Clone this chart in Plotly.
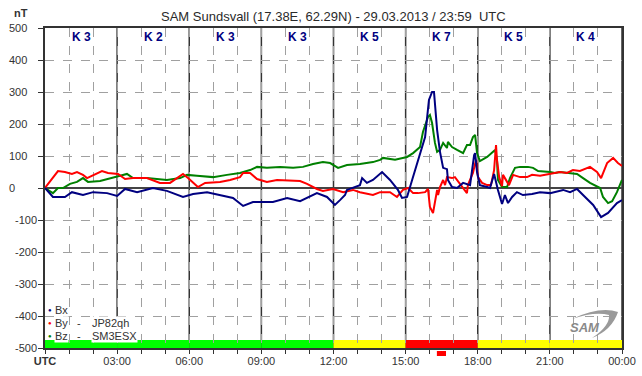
import plotly.graph_objects as go

# ---------------- data (hours UTC, nT) ----------------
bx_t = [0, 0.33, 0.83, 1.12, 1.58, 2.0, 2.58, 3.0, 3.33, 3.83, 4.49, 5.07, 5.74, 6.16, 6.74, 7.15,
        7.82, 8.24, 8.65, 9.48, 10.07, 10.61, 11.31, 11.73, 12.06, 12.27, 12.48, 12.56, 13.10, 13.19,
        13.39, 13.64, 14.02, 14.35, 14.68, 14.85, 15.06, 15.27, 15.52, 15.81, 15.97, 16.10, 16.18,
        16.31, 16.43, 16.56, 16.72, 16.76, 16.93, 17.14, 17.39, 17.68, 17.85, 17.89, 17.97, 18.09,
        18.39, 18.51, 18.68, 18.76, 18.84, 19.01, 19.13, 19.26, 19.43, 19.63, 19.88, 20.26, 20.59,
        21.01, 21.55, 21.84, 22.13, 22.38, 22.80, 23.13, 23.42, 23.79, 24.0]
bx_v = [0, -28, -28, -13, -22, -13, -16, -25, -3, -13, 0, -9, -28, -19, -13, -19,
        -31, -56, -44, -44, -31, -41, -16, -28, -53, -38, -22, -6, 9, 31,
        16, 25, 50, 25, -6, -31, -28, 25, 88, 159, 275, 300, 300,
        181, 113, 63, 59, 25, 3, 0, 16, 9, 103, 109, 50, 9,
        3, 0, 44, 16, -6, -50, -22, -47, -28, -13, -22, -19, -13,
        -16, -6, -13, -3, -22, -53, -91, -78, -47, -38]

by_t = [0, 0.33, 0.54, 0.83, 1.12, 1.33, 1.58, 1.75, 1.96, 2.37, 2.62, 3.04, 3.33, 3.66, 4.24, 4.78,
        5.2, 5.49, 5.74, 5.95, 6.16, 6.36, 6.66, 7.28, 7.70, 8.11, 8.24, 8.53, 8.82, 9.23, 9.65,
        10.61, 10.90, 11.31, 11.56, 11.98, 12.40, 12.81, 13.10, 13.64, 13.94, 14.35, 14.64, 14.89,
        15.10, 15.31, 15.52, 15.81, 15.93, 16.01, 16.14, 16.22, 16.31, 16.35, 16.43, 16.56, 16.64,
        16.72, 16.93, 17.05, 17.14, 17.39, 17.55, 17.59, 17.80, 17.93, 18.01, 18.18, 18.39, 18.55,
        18.68, 18.76, 18.80, 18.89, 19.01, 19.05, 19.18, 19.30, 19.47, 19.76, 20.05, 20.26, 20.59,
        21.01, 21.42, 21.71, 21.96, 22.25, 22.67, 22.96, 23.13, 23.38, 23.63, 23.83, 24.0]
by_v = [0, 31, 53, 50, 44, 50, 41, 31, 38, 53, 47, 44, 28, 31, 31, 16,
        16, 31, 44, 31, 16, 3, 16, 19, 25, 34, 47, 47, 28, 19, 25,
        22, 13, -3, -9, -3, -13, -6, -13, -22, -13, -13, -28, -6,
        0, -16, -16, -13, -3, -59, -78, -47, -6, -22, 3, 25, 9,
        34, 31, 34, 25, 0, -16, 9, 47, 88, 34, 16, 9, 9,
        56, 134, 88, 34, 6, 41, 25, 9, 41, 34, 34, 41, 38,
        44, 50, 47, 56, 53, 66, 50, 31, 78, 94, 78, 69]

bz_t = [0, 0.33, 0.54, 0.75, 1.04, 1.33, 1.58, 1.79, 2.29, 2.70, 3.12, 3.41, 3.66, 4.24, 5.07, 5.62,
        5.91, 6.32, 6.99, 7.57, 8.11, 8.53, 8.82, 9.23, 9.78, 10.32, 10.73, 11.15, 11.56, 11.86,
        12.19, 12.56, 13.10, 13.64, 13.94, 14.06, 14.56, 15.06, 15.31, 15.60, 15.72, 15.93, 16.01,
        16.10, 16.14, 16.22, 16.31, 16.43, 16.56, 16.72, 16.76, 16.93, 17.14, 17.39, 17.55, 17.68,
        17.80, 17.89, 17.97, 18.09, 18.39, 18.59, 18.72, 18.80, 18.84, 19.01, 19.22, 19.34, 19.55,
        19.76, 20.09, 20.30, 20.51, 21.01, 21.21, 21.42, 21.84, 22.13, 22.38, 22.67, 23.09, 23.21,
        23.42, 23.59, 23.79, 24.0]
bz_v = [0, -16, 0, 0, 13, 19, 31, 19, 22, 31, 38, 44, 31, 31, 25, 31,
        41, 38, 34, 41, 47, 56, 66, 63, 66, 63, 66, 75, 81, 78,
        63, 72, 75, 81, 88, 94, 88, 97, 109, 128, 175, 222, 228,
        203, 181, 141, 113, 119, 141, 125, 144, 128, 119, 109, 134, 134,
        159, 166, 109, 84, 97, 109, 119, 88, 25, 3, 3, 31, 63,
        66, 66, 63, 53, 50, 47, 50, 47, 44, 31, 16, 0, -28,
        -47, -41, -13, 25]

k_blocks = [0, 3, 6, 9, 12, 15, 18, 21]
k_values = [3, 2, 3, 3, 5, 7, 5, 4]
k_bar_colors = ["#00ff00", "#00ff00", "#00ff00", "#00ff00", "#ffff00", "#ff0000", "#ffff00", "#ffff00"]

x_ticks = [0, 3, 6, 9, 12, 15, 18, 21, 24]
x_labels = ["<b>UTC</b>", "03:00", "06:00", "09:00", "12:00", "15:00", "18:00", "21:00", "00:00"]
y_ticks = list(range(-500, 501, 100))

title = "SAM Sundsvall (17.38E, 62.29N) - 29.03.2013 / 23:59  UTC"
legend_names = ["Bx", "By", "Bz"]
legend_sources = ["", "JP82qh", "SM3ESX"]
legend_colors = ["#000080", "#ff0000", "#008000"]

# ---------------- figure ----------------
W, H = 642, 376
ML, MR, MT, MB = 45, 20, 28, 28
PW, PH = W - ML - MR, H - MT - MB


def px(xp):
    return (xp - ML) / PW


def py(yp):
    return (H - MB - yp) / PH


FONT = "Liberation Sans, Arial, sans-serif"
TXT = "#333333"

fig = go.Figure()
fig.add_trace(go.Scatter(x=bz_t, y=bz_v, mode="lines", line=dict(color=legend_colors[2], width=2), name="Bz"))
fig.add_trace(go.Scatter(x=by_t, y=by_v, mode="lines", line=dict(color=legend_colors[1], width=2), name="By"))
fig.add_trace(go.Scatter(x=bx_t, y=bx_v, mode="lines", line=dict(color=legend_colors[0], width=2), name="Bx"))

shapes = []
# K-index bar at bottom
for t0, c in zip(k_blocks, k_bar_colors):
    shapes.append(dict(type="rect", xref="x", yref="y", x0=t0, x1=t0 + 3, y0=-500, y1=-475,
                       fillcolor=c, line=dict(width=0), layer="below"))
# solid 3-hour lines
for t in x_ticks[1:]:
    shapes.append(dict(type="line", xref="x", yref="paper", x0=t, x1=t, y0=0, y1=1,
                       line=dict(color="#333333", width=1.5), layer="below"))
# small red marker under axis (time of max)
shapes.append(dict(type="rect", xref="x", yref="paper", x0=16.3, x1=16.68, y0=py(351), y1=py(356),
                   fillcolor="#ff0000", line=dict(width=0)))
# SAM logo swoosh
shapes.append(dict(type="path", xref="paper", yref="paper",
                   path=f"M {px(572)},{py(319)} Q {px(600)},{py(306)} {px(618)},{py(312)} "
                        f"Q {px(612)},{py(330)} {px(592)},{py(338)} "
                        f"Q {px(610)},{py(326)} {px(609)},{py(315)} "
                        f"Q {px(595)},{py(311)} {px(572)},{py(319)} Z",
                   fillcolor="#9a9a9a", line=dict(width=0)))

ann = []
ann.append(dict(text=title, xref="paper", yref="paper", x=px(333), y=py(17), showarrow=False,
                font=dict(size=13, color="#2a2a2a", family=FONT), xanchor="center", yanchor="middle"))
ann.append(dict(text="<b>nT</b>", xref="paper", yref="paper", x=px(21), y=py(13), showarrow=False,
                font=dict(size=11, color=TXT, family=FONT), xanchor="center", yanchor="middle"))
# y tick labels (left aligned as in the original)
for v in y_ticks:
    ann.append(dict(text=str(v), xref="paper", yref="y", x=px(7 if v >= 0 else 13), y=v, showarrow=False,
                    font=dict(size=11, color=TXT, family=FONT), xanchor="left", yanchor="middle"))
for t0, k in zip(k_blocks, k_values):
    ann.append(dict(text=f"<b>K {k}</b>", xref="x", yref="paper", x=t0 + 1.5, y=py(37), showarrow=False,
                    font=dict(size=12, color="#000080", family=FONT), xanchor="center", yanchor="middle"))
# legend
for i, (c, n, s) in enumerate(zip(legend_colors, legend_names, legend_sources)):
    yy = 310 + i * 13
    ann.append(dict(text="●", xref="paper", yref="paper", x=px(50), y=py(yy), showarrow=False,
                    font=dict(size=6, color=c, family=FONT), xanchor="center", yanchor="middle"))
    ann.append(dict(text=n, xref="paper", yref="paper", x=px(54), y=py(yy), showarrow=False,
                    font=dict(size=11, color=TXT, family=FONT), xanchor="left", yanchor="middle",
                    bgcolor="white", borderpad=0))
    if s:
        ann.append(dict(text="-", xref="paper", yref="paper", x=px(79), y=py(yy), showarrow=False,
                        font=dict(size=11, color=TXT, family=FONT), xanchor="center", yanchor="middle"))
        ann.append(dict(text=s, xref="paper", yref="paper", x=px(91), y=py(yy), showarrow=False,
                        font=dict(size=11, color=TXT, family=FONT), xanchor="left", yanchor="middle",
                        bgcolor="white", borderpad=0))
ann.append(dict(text="<b><i>SAM</i></b>", xref="paper", yref="paper", x=px(585), y=py(327), showarrow=False,
                font=dict(size=13, color="#8a8a8a", family=FONT), xanchor="center", yanchor="middle"))

fig.update_layout(
    width=W, height=H, margin=dict(l=ML, r=MR, t=MT, b=MB, autoexpand=False),
    paper_bgcolor="white", plot_bgcolor="white", showlegend=False,
    shapes=shapes, annotations=ann,
    font=dict(family=FONT, size=11, color=TXT),
    xaxis=dict(range=[0, 24], tickmode="array", tickvals=x_ticks, ticktext=x_labels, automargin=False,
               showgrid=False, zeroline=False, showline=True, linecolor="#333333", linewidth=1.5,
               mirror=True, ticks="outside", ticklen=4, tickcolor="#333333", tickwidth=1,
               tickfont=dict(size=11, color=TXT), ticklabelstandoff=-2,
               minor=dict(dtick=1, tick0=0, ticks="outside", ticklen=4, tickcolor="#333333",
                          showgrid=True, griddash="dash", gridcolor="#a0a0a0", gridwidth=1)),
    yaxis=dict(range=[-500, 500], tickmode="array", tickvals=y_ticks, automargin=False,
               showticklabels=False,
               showgrid=True, griddash="dash", gridcolor="#a0a0a0", gridwidth=1,
               zeroline=True, zerolinecolor="#444444", zerolinewidth=1.5,
               showline=True, linecolor="#333333", linewidth=1.5, mirror=True,
               ticks="outside", ticklen=5, tickcolor="#333333"),
)

fig.write_html("out.html", config={"displayModeBar": False},
               post_script="document.body.style.margin='0';document.body.style.overflow='hidden';")
